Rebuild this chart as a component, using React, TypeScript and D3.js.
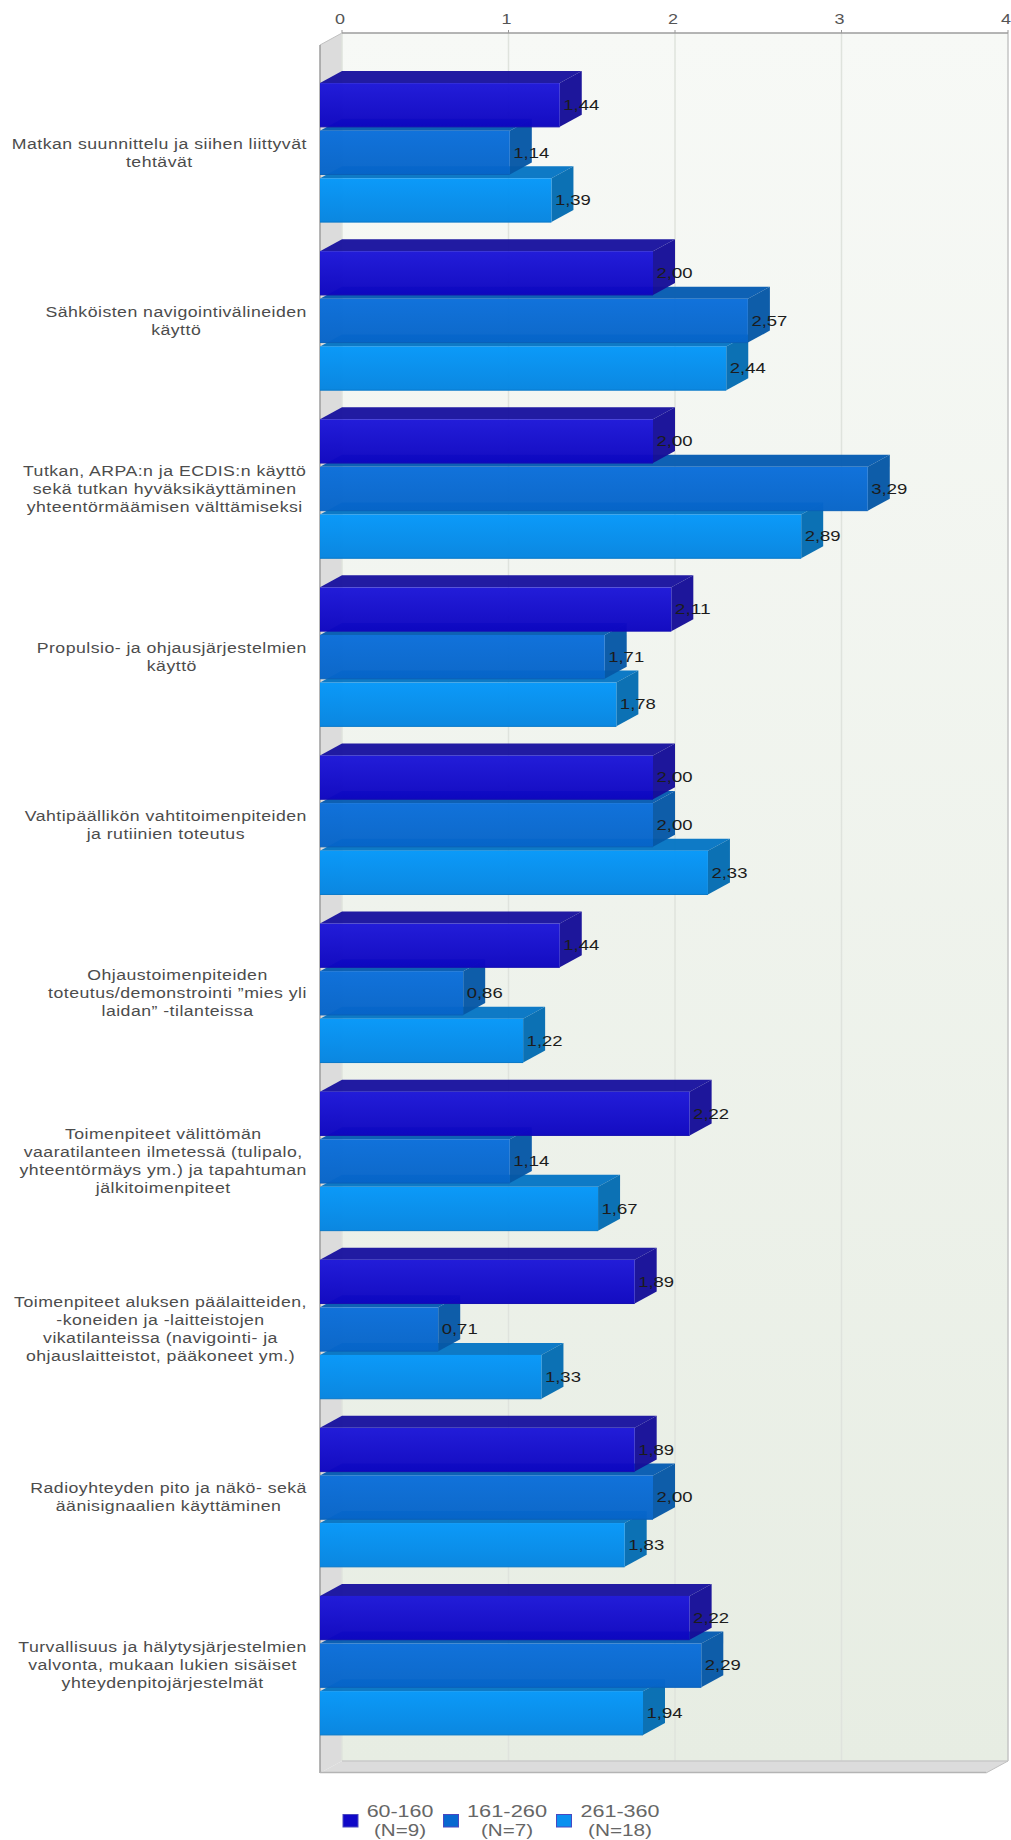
import React from "react";
import * as d3 from "d3";

const categories: string[][] = [
  ["Matkan suunnittelu ja siihen liittyvät", "tehtävät"],
  ["Sähköisten navigointivälineiden", "käyttö"],
  ["Tutkan, ARPA:n ja ECDIS:n käyttö", "sekä tutkan hyväksikäyttäminen", "yhteentörmäämisen välttämiseksi"],
  ["Propulsio- ja ohjausjärjestelmien", "käyttö"],
  ["Vahtipäällikön vahtitoimenpiteiden", "ja rutiinien toteutus"],
  ["Ohjaustoimenpiteiden", "toteutus/demonstrointi ”mies yli", "laidan” -tilanteissa"],
  ["Toimenpiteet välittömän", "vaaratilanteen ilmetessä (tulipalo,", "yhteentörmäys ym.) ja tapahtuman", "jälkitoimenpiteet"],
  ["Toimenpiteet aluksen päälaitteiden,", "-koneiden ja -laitteistojen", "vikatilanteissa (navigointi- ja", "ohjauslaitteistot, pääkoneet ym.)"],
  ["Radioyhteyden pito ja näkö- sekä", "äänisignaalien käyttäminen"],
  ["Turvallisuus ja hälytysjärjestelmien", "valvonta, mukaan lukien sisäiset", "yhteydenpitojärjestelmät"],
];

const seriesNames = ["60-160", "161-260", "261-360"];
const seriesCounts = ["(N=9)", "(N=7)", "(N=18)"];
const values60to160 = [1.44, 2.0, 2.0, 2.11, 2.0, 1.44, 2.22, 1.89, 1.89, 2.22];
const values161to260 = [1.14, 2.57, 3.29, 1.71, 2.0, 0.86, 1.14, 0.71, 2.0, 2.29];
const values261to360 = [1.39, 2.44, 2.89, 1.78, 2.33, 1.22, 1.67, 1.33, 1.83, 1.94];
const seriesValues = [values60to160, values161to260, values261to360];
const axisTicks = [0, 1, 2, 3, 4];

const frontTop = ["#1c16d8", "#0a6eda", "#0497f9"];
const frontBottom = ["#0d05c0", "#0664c8", "#0484e0"];
const edgeColors = ["#1510b0", "#0a60b8", "#0878c8"];
const topColors = ["#1a149f", "#065cb2", "#0676c4"];
const sideColors = ["#160e98", "#0658a6", "#046cb2"];
const swatchColors = ["#1008c8", "#0868d0", "#0a90f0"];

// Oblique offset of the 3D box: back wall relative to the front plane
const DEPTH_X = 22;
const DEPTH_Y = 12;

const x = d3.scaleLinear().domain([0, 4]).range([320, 986]);
const plotTop = 45;
const plotBottom = 1773;
const groupY = d3
  .scaleBand<number>()
  .domain(d3.range(categories.length))
  .range([plotTop, plotBottom])
  .paddingInner(0.173)
  .paddingOuter(0.2265);
const barY = d3
  .scaleBand<number>()
  .domain(d3.range(seriesNames.length))
  .range([0, groupY.bandwidth()])
  .paddingInner(0.08);

const LABEL_FONT = "15px 'Liberation Sans', Arial, sans-serif";
const LABEL_SPACING = 0.4;
const LABEL_STRETCH = 1.18;
const LABEL_RIGHT = 307;
const LINE_HEIGHT = 18;

// Label blocks are right aligned against the axis, with lines centred inside the block
function blockCentre(lines: string[]): number {
  const ctx = document.createElement("canvas").getContext("2d")!;
  ctx.font = LABEL_FONT;
  const widest = d3.max(lines, (l) => ctx.measureText(l).width + l.length * LABEL_SPACING) as number;
  return LABEL_RIGHT - (widest * LABEL_STRETCH) / 2;
}

const fmt = (v: number) => v.toFixed(2).replace(".", ",");
const pts = (p: number[][]) => p.map((q) => q.join(",")).join(" ");

export default function App() {
  const x0 = x(0);
  const x4 = x(4);
  return (
    <svg
      width={1011}
      height={1840}
      style={{ position: "absolute", left: 0, top: 0, background: "#fff" }}
      fontFamily="'Liberation Sans', Arial, sans-serif"
    >
      <defs>
        <linearGradient id="wall" x1="0" y1="0" x2="0" y2="1">
          <stop offset="0" stopColor="#f7f9f6" />
          <stop offset="1" stopColor="#e7ede3" />
        </linearGradient>
        {seriesNames.map((_, s) => (
          <linearGradient key={s} id={`front${s}`} x1="0" y1="0" x2="0" y2="1">
            <stop offset="0" stopColor={frontTop[s]} />
            <stop offset="1" stopColor={frontBottom[s]} />
          </linearGradient>
        ))}
      </defs>

      {/* back wall, side wall and floor */}
      <rect x={x0 + DEPTH_X} y={plotTop - DEPTH_Y} width={x4 - x0} height={plotBottom - plotTop} fill="url(#wall)" />
      <polygon
        points={pts([[x0, plotTop], [x0 + DEPTH_X, plotTop - DEPTH_Y], [x0 + DEPTH_X, plotBottom - DEPTH_Y], [x0, plotBottom]])}
        fill="#dcdcdc"
      />
      <polygon
        points={pts([[x0, plotBottom], [x0 + DEPTH_X, plotBottom - DEPTH_Y], [x4 + DEPTH_X, plotBottom - DEPTH_Y], [x4, plotBottom]])}
        fill="#dcdcdc"
      />

      {axisTicks.map((t) => (
        <g key={t}>
          <line x1={x(t) + DEPTH_X} x2={x(t) + DEPTH_X} y1={plotTop - DEPTH_Y} y2={plotBottom - DEPTH_Y} stroke={t === 4 ? "#c4c4c4" : "#dfe3dd"} strokeWidth={1.5} />
          <line x1={x(t) + DEPTH_X} x2={x(t) + DEPTH_X} y1={plotTop - DEPTH_Y - 3} y2={plotTop - DEPTH_Y} stroke="#999" strokeWidth={1} />
          <text
            x={x(t) + DEPTH_X - 7}
            y={24}
            fontSize={15.5}
            fill="#555"
            textLength={10}
            lengthAdjust="spacingAndGlyphs"
          >
            {t}
          </text>
        </g>
      ))}

      <line x1={x0 + DEPTH_X} x2={x4 + DEPTH_X} y1={plotTop - DEPTH_Y} y2={plotTop - DEPTH_Y} stroke="#9c9c9c" strokeWidth={1.5} />
      <line x1={x0 + DEPTH_X} x2={x4 + DEPTH_X} y1={plotBottom - DEPTH_Y} y2={plotBottom - DEPTH_Y} stroke="#cacaca" strokeWidth={1.5} />
      <line x1={x0} x2={x0 + DEPTH_X} y1={plotTop} y2={plotTop - DEPTH_Y} stroke="#c0c0c0" strokeWidth={1} />
      <line x1={x4} x2={x4 + DEPTH_X} y1={plotBottom} y2={plotBottom - DEPTH_Y} stroke="#c0c0c0" strokeWidth={1} />
      <line x1={x0} x2={x0} y1={plotTop} y2={plotBottom} stroke="#9c9c9c" strokeWidth={1.5} />
      <line x1={x0} x2={x4} y1={plotBottom - 0.5} y2={plotBottom - 0.5} stroke="#b4b4b4" strokeWidth={1.5} />

      {/* bars: painted from the lowest series up so each one overlaps the next */}
      {categories.map((_, c) => (
        <g key={c}>
          {d3.range(seriesNames.length).reverse().map((s) => {
            const v = seriesValues[s][c];
            const y0 = (groupY(c) as number) + (barY(s) as number);
            const y1 = y0 + barY.bandwidth();
            const xe = x(v);
            return (
              <g key={s} fillOpacity={0.97}>
                <polygon
                  points={pts([[x0, y0], [x0 + DEPTH_X, y0 - DEPTH_Y], [xe + DEPTH_X, y0 - DEPTH_Y], [xe, y0]])}
                  fill={topColors[s]}
                />
                <polygon
                  points={pts([[xe, y0], [xe + DEPTH_X, y0 - DEPTH_Y], [xe + DEPTH_X, y1 - DEPTH_Y], [xe, y1]])}
                  fill={sideColors[s]}
                />
                <rect x={x0} y={y0} width={xe - x0} height={y1 - y0} fill={`url(#front${s})`} />
                <line x1={x0} x2={xe} y1={y1} y2={y1} stroke={edgeColors[s]} strokeWidth={1} />
              </g>
            );
          })}
        </g>
      ))}

      {/* value labels sit on top of every bar */}
      {categories.map((_, c) =>
        seriesNames.map((__, s) => {
          const v = seriesValues[s][c];
          const y0 = (groupY(c) as number) + (barY(s) as number);
          return (
            <text
              key={`${c}-${s}`}
              x={x(v) + 3.5}
              y={y0 + barY.bandwidth() / 2 + 5}
              fontSize={14.5}
              fill="#1c1c1c"
              textLength={36}
              lengthAdjust="spacingAndGlyphs"
            >
              {fmt(v)}
            </text>
          );
        })
      )}

      {/* category labels, slightly widened */}
      {categories.map((lines, c) => {
        const cx = blockCentre(lines);
        const mid = (groupY(c) as number) + groupY.bandwidth() / 2;
        return (
          <text
            key={c}
            textAnchor="middle"
            fontSize={15}
            fill="#4c4c4c"
            letterSpacing={LABEL_SPACING}
            transform={`translate(${cx},0) scale(${LABEL_STRETCH},1)`}
          >
            {lines.map((l, i) => (
              <tspan key={i} x={0} y={mid + (i - (lines.length - 1) / 2) * LINE_HEIGHT + 5}>
                {l}
              </tspan>
            ))}
          </text>
        );
      })}

      {/* legend */}
      {seriesNames.map((name, s) => {
        const swatchX = [343, 443.5, 556.5][s];
        const textX = [400, 507, 620][s];
        const nameWidth = [66.7, 80, 79][s];
        const countWidth = [52, 52, 64][s];
        return (
          <g key={name}>
            <rect x={swatchX} y={1814.5} width={15} height={12.5} fill={swatchColors[s]} stroke="#4a48c0" strokeWidth={1} />
            <text x={textX} y={1817} textAnchor="middle" fontSize={16} fill="#666" textLength={nameWidth} lengthAdjust="spacingAndGlyphs">
              {name}
            </text>
            <text x={textX} y={1836} textAnchor="middle" fontSize={16} fill="#666" textLength={countWidth} lengthAdjust="spacingAndGlyphs">
              {seriesCounts[s]}
            </text>
          </g>
        );
      })}
    </svg>
  );
}
